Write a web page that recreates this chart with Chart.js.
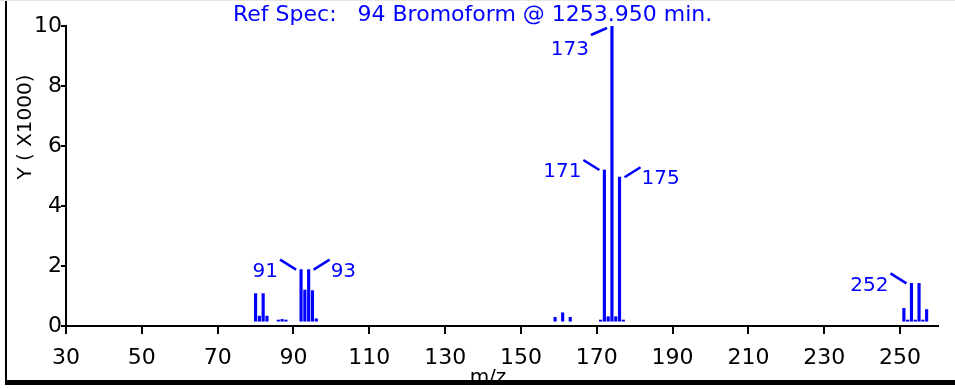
<!DOCTYPE html>
<html>
<head>
<meta charset="utf-8">
<script src="https://cdn.jsdelivr.net/npm/chart.js@4/dist/chart.umd.min.js"></script>
<style>
  body { margin: 0; background: #fff; }
  #spec { display: block; }
</style>
</head>
<body>
<canvas id="spec" width="955" height="389"></canvas>
<script>
const mz = [80, 81, 82, 83, 86, 87, 88, 92, 93, 94, 95, 96,
            159, 161, 163, 171, 172, 173, 174, 175, 176, 177,
            251, 252, 253, 254, 255, 256, 257]
const intensity = [1.08, 0.33, 1.08, 0.33, 0.2, 0.22, 0.2, 1.88, 1.2, 1.88, 1.18, 0.24,
                   0.29, 0.44, 0.29, 0.2, 5.2, 0.31, 10.0, 0.31, 4.96, 0.2,
                   0.59, 0.2, 1.42, 0.2, 1.42, 0.2, 0.55]
const peakLabels = ['91', '93', '171', '173', '175', '252']
const peakAt = [92, 94, 172, 174, 176, 253]
const xTicks = [30, 50, 70, 90, 110, 130, 150, 170, 190, 210, 230, 250]
const yTicks = [0, 2, 4, 6, 8, 10]

const titleText = 'Ref Spec:   94 Bromoform @ 1253.950 min.'
const blue = '#0000ff'
const font = '"DejaVu Sans", Verdana, sans-serif'

const specPlugin = {
    id: 'specDecor',
    afterDraw: function (chart) {
        const ctx = chart.ctx
        const meta = chart.getDatasetMeta(0)
        ctx.save()

        // frame
        ctx.fillStyle = '#000'
        ctx.fillRect(5, 0, 2, 384)
        ctx.fillRect(5, 380, 950, 5)
        ctx.fillStyle = '#e6e6e6'
        ctx.fillRect(0, 0, 955, 1)

        // title
        ctx.fillStyle = blue
        ctx.font = '22px ' + font
        ctx.textAlign = 'left'
        ctx.textBaseline = 'alphabetic'
        ctx.fillText(titleText, 233, 21)

        // axis titles
        ctx.fillStyle = '#000'
        ctx.textAlign = 'center'
        ctx.font = '20px ' + font
        ctx.fillText('m/z', 488, 383)
        ctx.save()
        ctx.translate(31, 127)
        ctx.rotate(-Math.PI / 2)
        ctx.fillText('Y ( X1000)', 0, 0)
        ctx.restore()

        // peak labels with leader lines
        const side = {'91': 'l', '93': 'r', '171': 'l', '173': 'top', '175': 'r', '252': 'l'}
        ctx.strokeStyle = blue
        ctx.fillStyle = blue
        ctx.lineWidth = 2.5
        ctx.font = '20px ' + font
        ctx.textBaseline = 'middle'
        for (let i = 0; i < peakLabels.length; i++) {
            const idx = mz.indexOf(peakAt[i])
            const bar = meta.data[idx]
            const x = bar.x, y = bar.y
            const s = side[peakLabels[i]]
            ctx.beginPath()
            if (s === 'l') {
                ctx.moveTo(x - 5, y); ctx.lineTo(x - 21, y - 10)
                ctx.stroke()
                ctx.textAlign = 'right'
                ctx.fillText(peakLabels[i], x - 23, y + 2)
            } else if (s === 'r') {
                ctx.moveTo(x + 5, y); ctx.lineTo(x + 21, y - 10)
                ctx.stroke()
                ctx.textAlign = 'left'
                ctx.fillText(peakLabels[i], x + 22, y + 2)
            } else {
                ctx.moveTo(x - 5, y + 2); ctx.lineTo(x - 21, y + 9)
                ctx.stroke()
                ctx.textAlign = 'right'
                ctx.fillText(peakLabels[i], x - 23, y + 24)
            }
        }
        ctx.restore()
    }
}

const specChart = new Chart(document.getElementById('spec').getContext('2d'), {
    type: 'bar',
    data: {
        datasets: [{
            data: mz.map(function (m, i) { return {x: m, y: intensity[i]} }),
            backgroundColor: blue,
            borderWidth: 0,
            barThickness: 2.5,
            base: 0.16
        }]
    },
    options: {
        responsive: false,
        animation: false,
        layout: { padding: { top: 26, right: 17, left: 0, bottom: 0 } },
        plugins: { legend: { display: false }, tooltip: { enabled: false } },
        scales: {
            x: {
                type: 'linear',
                min: 30,
                max: 260,
                offset: false,
                afterFit: function (scale) { scale.height = 63 },
                afterBuildTicks: function (scale) {
                    scale.ticks = xTicks.map(function (v) { return {value: v} })
                },
                border: { color: '#000', width: 2 },
                grid: { offset: false, drawOnChartArea: false, color: '#000', lineWidth: 2, tickLength: 8 },
                ticks: { color: '#000', font: { family: font, size: 22 }, padding: 11, maxRotation: 0, autoSkip: false }
            },
            y: {
                min: 0,
                max: 10,
                afterFit: function (scale) { scale.width = 66 },
                afterBuildTicks: function (scale) {
                    scale.ticks = yTicks.map(function (v) { return {value: v} })
                },
                border: { color: '#000', width: 2 },
                grid: { drawOnChartArea: false, color: '#000', lineWidth: 2, tickLength: 5 },
                ticks: { color: '#000', font: { family: font, size: 22 }, padding: -1 }
            }
        }
    },
    plugins: [specPlugin]
})
</script>
</body>
</html>
